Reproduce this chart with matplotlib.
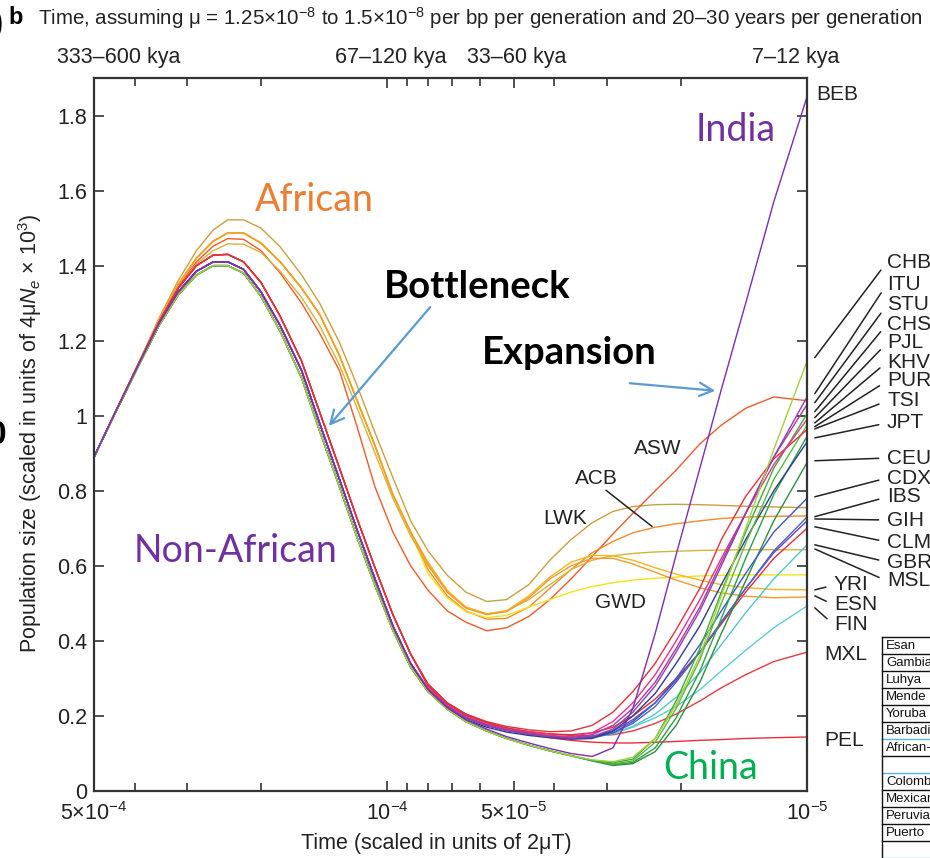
import matplotlib
matplotlib.use("Agg")
import matplotlib.pyplot as plt
from matplotlib.ticker import FixedLocator, FixedFormatter, LogLocator, NullFormatter
from matplotlib.transforms import blended_transform_factory
from matplotlib.lines import Line2D
from matplotlib.patches import FancyArrowPatch

plt.rcParams['font.family'] = ['Liberation Sans', 'DejaVu Sans']
plt.rcParams['mathtext.fontset'] = 'custom'
plt.rcParams['mathtext.rm'] = 'Liberation Sans'
plt.rcParams['mathtext.it'] = 'Liberation Sans:italic'

W, H = 930, 858

def px(x, y):
    # figure pixel -> figure fraction
    return (x / W, 1 - y / H)

# time grid (scaled in units of 2uT); first 18 = early part, last 18 = recent part
time = [5.0e-4, 4.4e-4, 3.9e-4, 3.5e-4, 3.15e-4, 2.85e-4, 2.6e-4, 2.4e-4, 2.2e-4,
        2.0e-4, 1.8e-4, 1.6e-4, 1.45e-4, 1.3e-4, 1.18e-4, 1.07e-4, 9.7e-5, 8.8e-5,
        8.0e-5, 7.2e-5, 6.5e-5, 5.8e-5, 5.2e-5, 4.6e-5, 4.1e-5, 3.65e-5, 3.25e-5,
        2.9e-5, 2.6e-5, 2.3e-5, 2.05e-5, 1.8e-5, 1.6e-5, 1.4e-5, 1.2e-5, 1.0e-5]

# early history (shared shapes)
na_main = [0.89, 1.02, 1.14, 1.245, 1.33, 1.385, 1.41, 1.41, 1.39, 1.33, 1.24, 1.12,
           0.98, 0.83, 0.695, 0.565, 0.44, 0.34]
na_red = [0.89, 1.02, 1.142, 1.25, 1.34, 1.40, 1.428, 1.43, 1.41, 1.355, 1.265, 1.145,
          1.01, 0.86, 0.725, 0.595, 0.47, 0.365]
na_low = [0.89, 1.018, 1.137, 1.24, 1.322, 1.375, 1.40, 1.40, 1.38, 1.318, 1.225, 1.10,
          0.96, 0.81, 0.675, 0.548, 0.428, 0.33]
afr_hi = [0.89, 1.022, 1.145, 1.26, 1.36, 1.44, 1.495, 1.522, 1.522, 1.50, 1.45, 1.375,
          1.30, 1.195, 1.08, 0.955, 0.835, 0.72]
afr_mid = [0.89, 1.021, 1.143, 1.255, 1.35, 1.42, 1.465, 1.487, 1.487, 1.46, 1.41, 1.34,
           1.27, 1.16, 1.04, 0.92, 0.79, 0.69]
afr_lo = [0.89, 1.021, 1.142, 1.25, 1.34, 1.405, 1.44, 1.458, 1.457, 1.435, 1.385, 1.315,
          1.24, 1.135, 1.02, 0.90, 0.78, 0.68]
afr_asw = [0.89, 1.021, 1.143, 1.252, 1.345, 1.41, 1.452, 1.472, 1.47, 1.44, 1.38, 1.30,
           1.22, 1.12, 0.97, 0.81, 0.69, 0.60]

# recent history (one per population)
lwk = [0.64, 0.575, 0.53, 0.505, 0.51, 0.55, 0.615, 0.67, 0.715, 0.745, 0.758, 0.763,
       0.764, 0.763, 0.761, 0.759, 0.757, 0.755]
asw = [0.535, 0.48, 0.45, 0.427, 0.435, 0.465, 0.51, 0.565, 0.625, 0.685, 0.74, 0.80,
       0.855, 0.925, 0.975, 1.02, 1.05, 1.04]
acb = [0.59, 0.52, 0.48, 0.458, 0.46, 0.49, 0.54, 0.59, 0.635, 0.665, 0.688, 0.703,
       0.712, 0.72, 0.726, 0.73, 0.732, 0.733]
gwd = [0.58, 0.515, 0.478, 0.462, 0.468, 0.49, 0.51, 0.53, 0.545, 0.555, 0.562, 0.567,
       0.57, 0.573, 0.575, 0.576, 0.576, 0.576]
msl = [0.60, 0.53, 0.49, 0.472, 0.48, 0.51, 0.55, 0.59, 0.615, 0.627, 0.633, 0.637,
       0.639, 0.641, 0.642, 0.643, 0.643, 0.643]
yri = [0.61, 0.535, 0.49, 0.472, 0.48, 0.52, 0.57, 0.61, 0.628, 0.627, 0.615, 0.595,
       0.578, 0.562, 0.55, 0.542, 0.537, 0.536]
esn = [0.605, 0.53, 0.487, 0.47, 0.478, 0.515, 0.565, 0.60, 0.62, 0.62, 0.605, 0.583,
       0.562, 0.542, 0.528, 0.519, 0.515, 0.517]
pel = [0.285, 0.235, 0.205, 0.182, 0.165, 0.152, 0.142, 0.135, 0.13, 0.128, 0.128, 0.13,
       0.132, 0.135, 0.137, 0.14, 0.142, 0.144]
mxl = [0.28, 0.232, 0.202, 0.182, 0.168, 0.158, 0.152, 0.148, 0.147, 0.15, 0.16, 0.18,
       0.205, 0.24, 0.275, 0.31, 0.345, 0.37]
fin = [0.27, 0.225, 0.195, 0.175, 0.162, 0.152, 0.145, 0.142, 0.145, 0.155, 0.17, 0.195,
       0.225, 0.27, 0.32, 0.375, 0.435, 0.493]
gbr = [0.27, 0.225, 0.195, 0.175, 0.162, 0.152, 0.145, 0.14, 0.142, 0.152, 0.172, 0.205,
       0.25, 0.315, 0.39, 0.475, 0.565, 0.656]
clm = [0.28, 0.232, 0.202, 0.182, 0.168, 0.158, 0.152, 0.15, 0.155, 0.17, 0.20, 0.245,
       0.30, 0.37, 0.445, 0.53, 0.62, 0.70]
gih = [0.27, 0.225, 0.195, 0.175, 0.162, 0.152, 0.145, 0.142, 0.145, 0.16, 0.19, 0.235,
       0.295, 0.37, 0.45, 0.54, 0.635, 0.72]
ibs = [0.27, 0.225, 0.195, 0.175, 0.162, 0.152, 0.145, 0.14, 0.142, 0.155, 0.18, 0.225,
       0.29, 0.37, 0.45, 0.54, 0.64, 0.73]
cdx = [0.265, 0.218, 0.185, 0.16, 0.14, 0.122, 0.107, 0.094, 0.08, 0.068, 0.073, 0.105,
       0.175, 0.29, 0.42, 0.56, 0.72, 0.875]
ceu = [0.27, 0.225, 0.195, 0.175, 0.162, 0.152, 0.145, 0.14, 0.142, 0.155, 0.185, 0.235,
       0.30, 0.39, 0.48, 0.58, 0.69, 0.78]
jpt = [0.265, 0.218, 0.185, 0.16, 0.14, 0.122, 0.107, 0.094, 0.081, 0.07, 0.076, 0.115,
       0.195, 0.32, 0.46, 0.62, 0.79, 0.945]
tsi = [0.265, 0.22, 0.19, 0.17, 0.157, 0.148, 0.142, 0.138, 0.14, 0.16, 0.20, 0.26,
       0.34, 0.44, 0.55, 0.67, 0.80, 0.93]
khv = [0.265, 0.218, 0.185, 0.16, 0.14, 0.122, 0.107, 0.094, 0.082, 0.072, 0.08, 0.13,
       0.22, 0.35, 0.50, 0.66, 0.83, 0.975]
chs = [0.265, 0.218, 0.185, 0.16, 0.14, 0.122, 0.107, 0.094, 0.082, 0.075, 0.085, 0.14,
       0.24, 0.38, 0.53, 0.69, 0.86, 1.005]
pur = [0.285, 0.235, 0.205, 0.185, 0.172, 0.163, 0.158, 0.16, 0.175, 0.21, 0.265, 0.34,
       0.43, 0.54, 0.67, 0.785, 0.885, 0.963]
pjl = [0.275, 0.228, 0.198, 0.178, 0.165, 0.155, 0.148, 0.145, 0.155, 0.185, 0.235, 0.31,
       0.40, 0.51, 0.62, 0.74, 0.87, 0.99]
stu = [0.27, 0.225, 0.195, 0.175, 0.162, 0.152, 0.145, 0.142, 0.15, 0.175, 0.22, 0.29,
       0.38, 0.49, 0.61, 0.74, 0.89, 1.03]
itu = [0.27, 0.225, 0.195, 0.175, 0.162, 0.152, 0.145, 0.14, 0.145, 0.165, 0.21, 0.28,
       0.37, 0.48, 0.60, 0.74, 0.89, 1.05]
chb = [0.265, 0.218, 0.185, 0.16, 0.14, 0.122, 0.107, 0.094, 0.083, 0.078, 0.09, 0.14,
       0.23, 0.36, 0.52, 0.70, 0.91, 1.145]
beb = [0.27, 0.222, 0.19, 0.165, 0.145, 0.128, 0.113, 0.10, 0.092, 0.115, 0.22, 0.42,
       0.63, 0.86, 1.07, 1.30, 1.57, 1.85]

early = [afr_hi, afr_asw, afr_mid, afr_mid, afr_lo, afr_mid, afr_mid,
         na_red, na_red, na_main, na_main, na_red, na_main, na_main, na_low, na_main,
         na_low, na_low, na_low, na_low, na_red, na_main, na_main, na_main, na_low, na_main]
recent = [lwk, asw, acb, gwd, msl, yri, esn,
          pel, mxl, fin, gbr, clm, gih, ibs, cdx, ceu,
          jpt, tsi, khv, chs, pur, pjl, stu, itu, chb, beb]
colors = ['#C9A040', '#EE5A2A', '#F28A2E', '#F2E21B', '#D9B23A', '#F7B520', '#F39A2C',
          '#EC2B3D', '#E33A45', '#5ECAD4', '#52C4D0', '#D8323F', '#6E41AC', '#4863CC',
          '#2F8C3D', '#3A5BC6', '#2A9E48', '#2C3D8F', '#5CB83A', '#3DAB42', '#E23138',
          '#E4338C', '#B1379B', '#8C3FB4', '#A5CF3C', '#7D2DB0']

# labels at right edge with leader lines
lead_names = ['CHB', 'ITU', 'STU', 'CHS', 'PJL', 'KHV', 'PUR', 'TSI', 'JPT',
              'CEU', 'CDX', 'IBS', 'GIH', 'CLM', 'GBR', 'MSL', 'YRI', 'ESN', 'FIN']
lead_from = [1.155, 1.059, 1.035, 1.011, 0.995, 0.981, 0.971, 0.965, 0.941,
             0.88, 0.784, 0.731, 0.725, 0.704, 0.656, 0.645, 0.536, 0.52, 0.488]

xticks = [5e-4, 1e-4, 5e-5, 1e-5]
xticklabels = ['5×10$^{-4}$', '10$^{-4}$', '5×10$^{-5}$', '10$^{-5}$']
yticks = [0, 0.2, 0.4, 0.6, 0.8, 1.0, 1.2, 1.4, 1.6, 1.8]
yticklabels = ['0', '0.2', '0.4', '0.6', '0.8', '1', '1.2', '1.4', '1.6', '1.8']
kya_labels = ['333–600 kya', '67–120 kya', '33–60 kya', '7–12 kya']

table_rows = ['Esan', 'Gambian', 'Luhya', 'Mende', 'Yoruba', 'Barbadian',
              'African-American', '', 'Colombian', 'Mexican', 'Peruvian', 'Puerto', '']

fig = plt.figure(figsize=(9.3, 8.58), dpi=100)
ax = fig.add_axes([94 / W, 1 - 791 / H, 713 / W, 713 / H])

for e, r, c in zip(early, recent, colors):
    ax.plot(time, e + r, color=c, lw=1.0)

ax.set_xscale('log')
ax.set_xlim(5e-4, 1e-5)
ax.set_ylim(0, 1.9)
ax.xaxis.set_major_locator(FixedLocator(xticks))
ax.xaxis.set_major_formatter(FixedFormatter(xticklabels))
ax.xaxis.set_minor_locator(LogLocator(base=10, subs=range(2, 10), numticks=20))
ax.xaxis.set_minor_formatter(NullFormatter())
ax.set_yticks(yticks)
ax.set_yticklabels(yticklabels)
ax.tick_params(which='both', direction='in', top=True, right=True, color='#333333',
               width=1.2, labelsize=15.5, labelcolor='#222222')
ax.tick_params(which='major', length=7)
ax.tick_params(which='minor', length=6)
ax.tick_params(axis='x', pad=8)
ax.tick_params(axis='y', pad=5)
for s in ax.spines.values():
    s.set_color('#333333')
    s.set_linewidth(1.6)

# axis labels
fig.text(*px(436, 843), 'Time (scaled in units of 2μT)', ha='center', va='center',
         fontsize=15.5, color='#222222')
fig.text(*px(30, 433), 'Population size (scaled in units of 4μ$\\mathit{N_e}$ × 10$^{3}$)',
         ha='center', va='center', rotation=90, fontsize=15.5, color='#222222')

# top time scale
for lab, xp in zip(kya_labels, [119, 391, 517, 796]):
    fig.text(*px(xp, 58), lab, ha='center', va='center', fontsize=15.5, color='#222222')

fig.text(*px(38, 18), 'Time, assuming μ = 1.25×10$^{-8}$ to 1.5×10$^{-8}$ per bp per generation '
         'and 20–30 years per generation', ha='left', va='center', fontsize=14.75,
         color='#222222')
fig.text(*px(16, 18), 'b', ha='center', va='center', fontsize=17, fontweight='bold')
fig.text(*px(-2, 24), ')', ha='center', va='center', fontsize=22, fontweight='bold')
fig.text(*px(-3, 435), '0', ha='center', va='center', fontsize=24, fontweight='bold')

# right-edge labels with leader lines
yx = blended_transform_factory(ax.transAxes, ax.transData)
lab_y = [262, 284, 305, 324, 343, 362, 381, 401, 423, 458, 478, 497, 520, 542, 562, 581,
         585, 605, 625]
for i, (name, v) in enumerate(zip(lead_names, lead_from)):
    lx = 887 if i < 16 else 834
    ax.annotate(name, xy=(1.011, v), xycoords=yx, xytext=px(lx, lab_y[i]),
                textcoords='figure fraction', ha='left', va='center', fontsize=15,
                color='#222222', annotation_clip=False,
                arrowprops=dict(arrowstyle='-', lw=1.1, color='#222222', shrinkA=4,
                                shrinkB=0, relpos=(0, 0.5)))
for name, xp, yp in [('BEB', 816, 95), ('MXL', 824, 655), ('PEL', 824, 740)]:
    fig.text(*px(xp, yp), name, ha='left', va='center', fontsize=15, color='#222222')

# in-plot African labels
for name, xp, yp in [('ASW', 658, 449), ('LWK', 565, 519), ('GWD', 620, 603)]:
    fig.text(*px(xp, yp), name, ha='center', va='center', fontsize=15, color='#222222')
ax.annotate('ACB', xy=(2.34e-5, 0.705), xytext=px(596, 478), textcoords='figure fraction',
            ha='center', va='center', fontsize=15, color='#222222',
            arrowprops=dict(arrowstyle='-', lw=1.1, color='#222222', shrinkA=0, shrinkB=0,
                            relpos=(0.65, 0)))

# slide annotations
slide_font = ['Lato', 'DejaVu Sans']
fig.text(*px(314, 200), 'African', ha='center', va='center', fontsize=27,
         color='#ED7D31', family=slide_font)
fig.text(*px(236, 551), 'Non-African', ha='center', va='center', fontsize=27,
         color='#7030A0', family=slide_font)
fig.text(*px(736, 130), 'India', ha='center', va='center', fontsize=27,
         color='#7030A0', family=slide_font)
fig.text(*px(711, 768), 'China', ha='center', va='center', fontsize=27,
         color='#00B050', family=slide_font)
fig.text(*px(477, 287), 'Bottleneck', ha='center', va='center', fontsize=27.5,
         fontweight='bold', color='black', family=slide_font)
fig.text(*px(569, 353), 'Expansion', ha='center', va='center', fontsize=27.5,
         fontweight='bold', color='black', family=slide_font)
for tail, head in [((432, 305), (327, 428)), ((627, 383), (718, 391))]:
    fig.add_artist(FancyArrowPatch(px(*tail), px(*head), transform=fig.transFigure,
                                   arrowstyle='->', mutation_scale=24, lw=1.6,
                                   color='#5B9BD5'))

# cropped table at bottom right
for k in range(14):
    yk = 637 + 17 * k
    col = '#5AB4E6' if k in (6, 8, 13) else '#111111'
    fig.add_artist(Line2D([882 / W, 1.0], [1 - yk / H] * 2, transform=fig.transFigure,
                          color=col, lw=1.0))
fig.add_artist(Line2D([882 / W] * 2, [1 - 637 / H, 0], transform=fig.transFigure,
                      color='#111111', lw=1.0))
for k, row in enumerate(table_rows):
    fig.text(*px(886, 637 + 17 * k + 9), row, ha='left', va='center', fontsize=9.5,
             color='#111111')

fig.savefig('out.png', dpi=100)
